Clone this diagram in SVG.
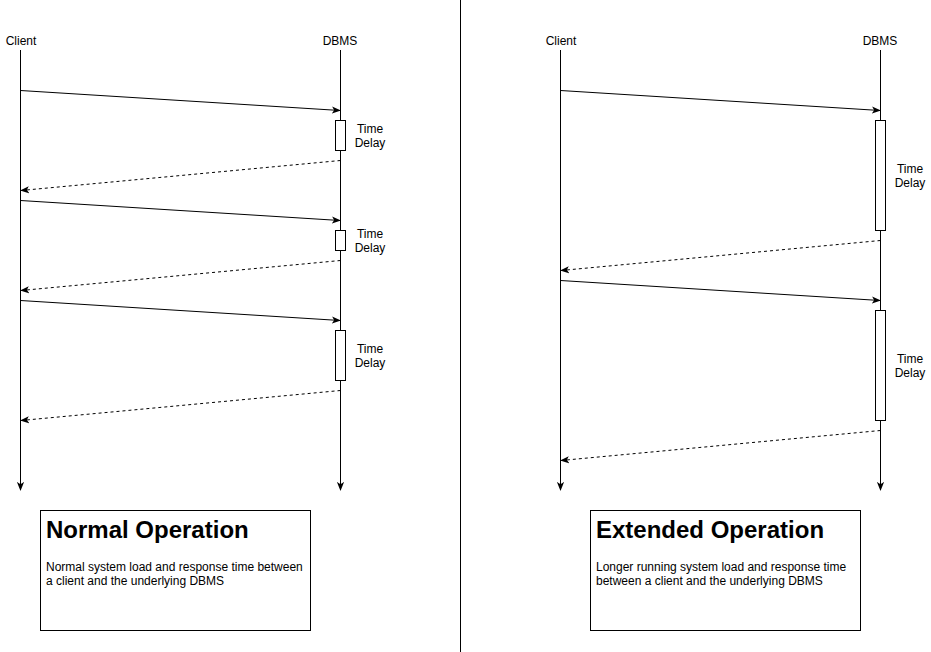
<svg xmlns="http://www.w3.org/2000/svg" width="931" height="652" viewBox="0 0 931 652">
<style>
text{font-family:"Liberation Sans",Arial,sans-serif;fill:#000}
.lbl{font-size:12px;text-anchor:middle}
.title{font-size:24px;font-weight:bold}
.body{font-size:12px}
.life{stroke:#000;stroke-width:1;fill:none}
.msg{stroke:#000;stroke-width:1;fill:none}
.ret{stroke:#000;stroke-width:1;fill:none;stroke-dasharray:3 3}
.act{fill:#fff;stroke:#000;stroke-width:1}
.note{fill:#fff;stroke:#000;stroke-width:1}
</style>
<defs>
<marker id="ah" viewBox="0 0 10 10" refX="9" refY="5" markerWidth="9" markerHeight="9" markerUnits="userSpaceOnUse" orient="auto">
<path d="M0,1 L10,5 L0,9 L2.5,5 Z" fill="#000"/>
</marker>
</defs>
<rect width="931" height="652" fill="#fff"/>
<line x1="460.5" y1="0" x2="460.5" y2="652" stroke="#000" stroke-width="1"/>
<g id="lifelines">
<g id="client-left"><text class="lbl" x="21" y="45">Client</text><line class="life" x1="20.5" y1="50" x2="20.5" y2="490" marker-end="url(#ah)"/></g>
<g id="dbms-left"><text class="lbl" x="340" y="45">DBMS</text><line class="life" x1="340.5" y1="50" x2="340.5" y2="490" marker-end="url(#ah)"/></g>
<g id="client-right"><text class="lbl" x="561" y="45">Client</text><line class="life" x1="560.5" y1="50" x2="560.5" y2="490" marker-end="url(#ah)"/></g>
<g id="dbms-right"><text class="lbl" x="880" y="45">DBMS</text><line class="life" x1="880.5" y1="50" x2="880.5" y2="490" marker-end="url(#ah)"/></g>
</g>
<g id="activations">
<g id="delay-l1"><rect class="act" x="335.5" y="120.5" width="10" height="30"/><text class="lbl" x="370" y="133">Time</text><text class="lbl" x="370" y="147">Delay</text></g>
<g id="delay-l2"><rect class="act" x="335.5" y="230.5" width="10" height="20"/><text class="lbl" x="370" y="238">Time</text><text class="lbl" x="370" y="252">Delay</text></g>
<g id="delay-l3"><rect class="act" x="335.5" y="330.5" width="10" height="50"/><text class="lbl" x="370" y="353">Time</text><text class="lbl" x="370" y="367">Delay</text></g>
<g id="delay-r1"><rect class="act" x="875.5" y="120.5" width="10" height="110"/><text class="lbl" x="910" y="173">Time</text><text class="lbl" x="910" y="187">Delay</text></g>
<g id="delay-r2"><rect class="act" x="875.5" y="310.5" width="10" height="110"/><text class="lbl" x="910" y="363">Time</text><text class="lbl" x="910" y="377">Delay</text></g>
</g>
<g id="connectors">
<line class="msg" x1="20.5" y1="90.5" x2="340" y2="110.5" marker-end="url(#ah)"/>
<line class="ret" x1="340.5" y1="160.5" x2="21" y2="190.5" marker-end="url(#ah)"/>
<line class="msg" x1="20.5" y1="200.5" x2="340" y2="220.5" marker-end="url(#ah)"/>
<line class="ret" x1="340.5" y1="260.5" x2="21" y2="290.5" marker-end="url(#ah)"/>
<line class="msg" x1="20.5" y1="300.5" x2="340" y2="320.5" marker-end="url(#ah)"/>
<line class="ret" x1="340.5" y1="390.5" x2="21" y2="420.5" marker-end="url(#ah)"/>
<line class="msg" x1="560.5" y1="90.5" x2="880" y2="110.5" marker-end="url(#ah)"/>
<line class="ret" x1="880.5" y1="240.5" x2="561" y2="270.5" marker-end="url(#ah)"/>
<line class="msg" x1="560.5" y1="280.5" x2="880" y2="300.5" marker-end="url(#ah)"/>
<line class="ret" x1="880.5" y1="430.5" x2="561" y2="460.5" marker-end="url(#ah)"/>
</g>
<g id="note-normal">
<rect class="note" x="40.5" y="510.5" width="270" height="120"/>
<text class="title" x="46" y="538">Normal Operation</text>
<text class="body" x="46" y="571">Normal system load and response time between</text>
<text class="body" x="46" y="585">a client and the underlying DBMS</text>
</g>
<g id="note-extended">
<rect class="note" x="590.5" y="510.5" width="270" height="120"/>
<text class="title" x="596" y="538">Extended Operation</text>
<text class="body" x="596" y="571">Longer running system load and response time</text>
<text class="body" x="596" y="585">between a client and the underlying DBMS</text>
</g>
</svg>
